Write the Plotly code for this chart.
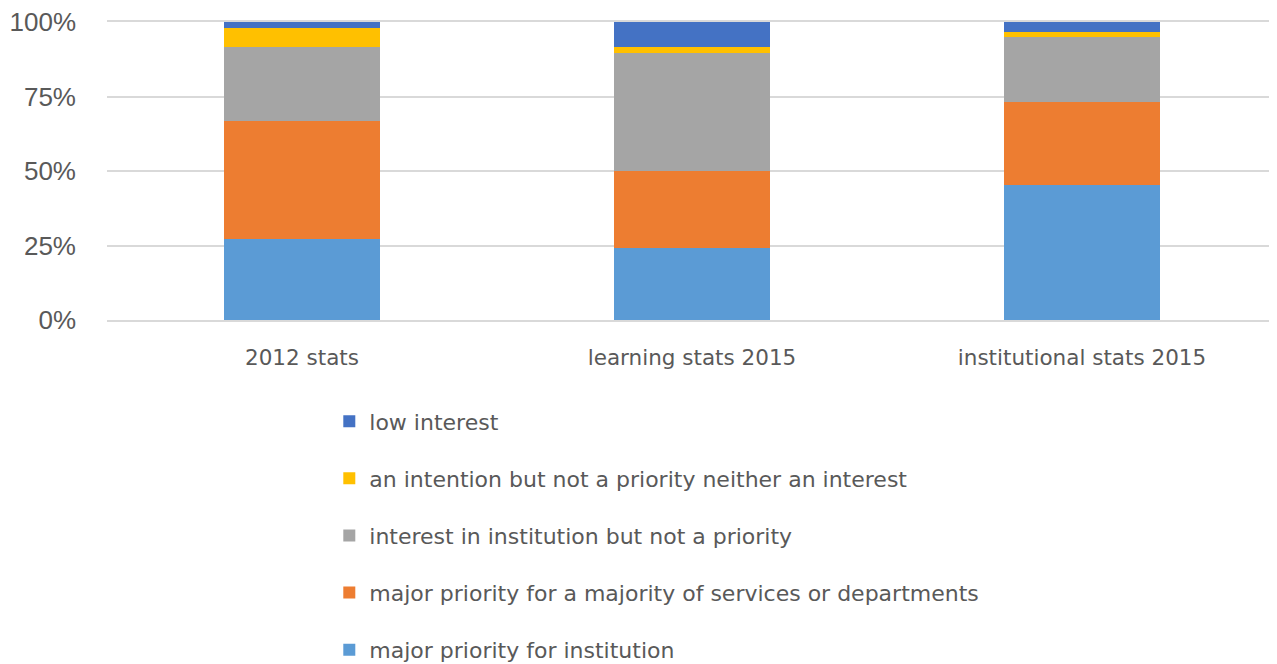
import plotly.graph_objects as go

categories = ["2012 stats", "learning stats 2015", "institutional stats 2015"]
major_institution = [27.2, 24.0, 45.2]
major_departments = [39.7, 26.1, 28.1]
interest_not_priority = [24.8, 39.6, 21.6]
intention_not_priority = [6.3, 2.0, 1.9]
low_interest = [2.0, 8.3, 3.2]
y_ticks = [0, 25, 50, 75, 100]
y_tick_labels = ["0%", "25%", "50%", "75%", "100%"]

series = [
    ("major priority for institution", major_institution, "#5B9BD5"),
    ("major priority for a majority of services or departments", major_departments, "#ED7D31"),
    ("interest in institution but not a priority", interest_not_priority, "#A5A5A5"),
    ("an intention but not a priority neither an interest", intention_not_priority, "#FFC000"),
    ("low interest", low_interest, "#4472C4"),
]

fig = go.Figure()
n = len(series)
for i, (name, vals, color) in enumerate(series):
    fig.add_trace(go.Bar(
        x=categories, y=vals, name=name, marker=dict(color=color, line=dict(width=0)),
        legendgroup=f"g{i}", legendrank=n - i,
    ))

fig.update_layout(
    barmode="stack",
    width=1277, height=664,
    margin=dict(l=99, r=8, t=14, b=352, autoexpand=False),
    plot_bgcolor="white", paper_bgcolor="white",
    bargap=0.6,
    font=dict(family="DejaVu Sans", color="#595959"),
    legend=dict(
        x=0.19, xanchor="left", y=-0.27, yanchor="top",
        traceorder="grouped", tracegroupgap=25.5,
        font=dict(family="DejaVu Sans", size=22, color="#595959"),
    ),
    xaxis=dict(
        tickfont=dict(family="DejaVu Sans", size=21.5, color="#595959"),
        ticklabelstandoff=17,
        showline=True, linecolor="#D9D9D9", linewidth=1.5, mirror=True,
    ),
    yaxis=dict(
        range=[0, 100], tickmode="array", tickvals=y_ticks, ticktext=y_tick_labels,
        tickfont=dict(family="Liberation Sans", size=26, color="#595959"),
        gridcolor="#D9D9D9", gridwidth=1.5, zeroline=False,
        ticklabelstandoff=30, ticklabeloverflow="allow",
    ),
)

fig.write_html("out.html")
